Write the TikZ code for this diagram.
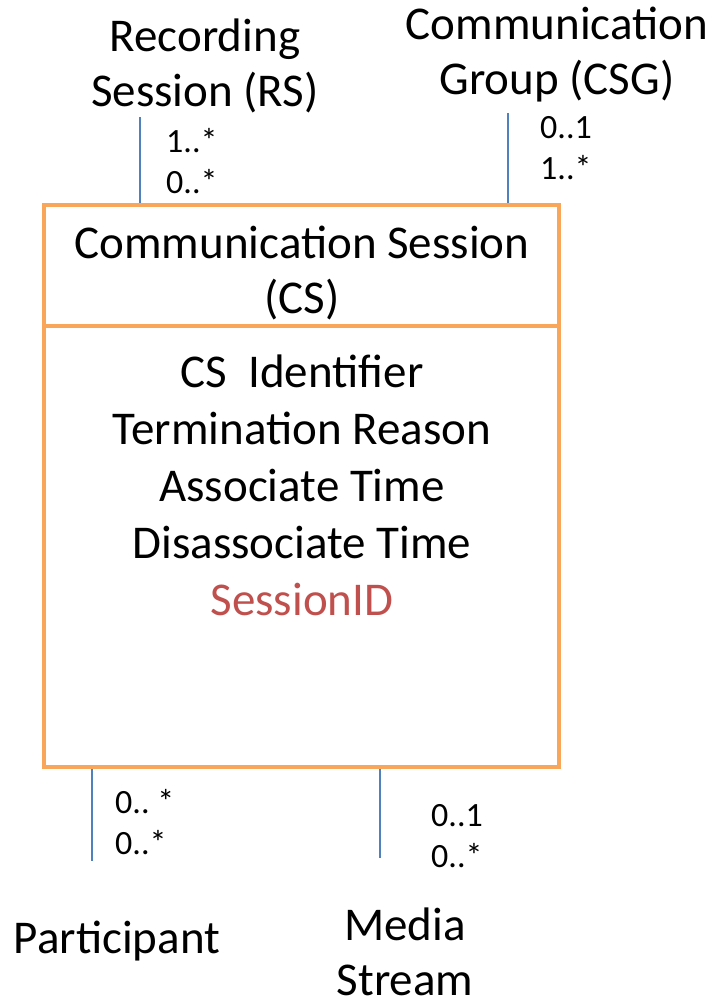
\documentclass[tikz,border=0pt]{standalone}
\usepackage{fontspec}
\setmainfont{Carlito}
\definecolor{boxorange}{HTML}{F9A65A}
\definecolor{linkblue}{HTML}{4F81BD}
\definecolor{attrred}{HTML}{C0504D}
\tikzset{
  big/.style={font=\fontsize{47}{55}\selectfont, align=center, inner sep=0pt},
  attr/.style={font=\fontsize{47}{57}\selectfont, align=center, inner sep=0pt},
  mult/.style={font=\fontsize{34}{41}\selectfont, align=left, inner sep=0pt, anchor=west},
  link/.style={draw=linkblue, line width=1.4pt},
  cbox/.style={draw=boxorange, line width=4pt, inner sep=0pt}
}
\begin{document}
\begin{tikzpicture}[x=1pt,y=-1pt]
\useasboundingbox (0,0) rectangle (714,997);
% main class box
\node[cbox, minimum width=515pt, minimum height=562pt] (cs) at (301.5,486) {};
\draw[draw=boxorange, line width=4pt] (cs.west |- 0,326) coordinate (divl) -- (cs.east |- 0,326) coordinate (divr);
\node[big] (cstitle) at (302,273) {Communication Session\\(CS)};
\node[attr] (attrs) at (302,485) {CS\ \ Identifier\\Termination Reason\\Associate Time\\Disassociate Time\\\textcolor{attrred}{SessionID}};
% related entities
\node[big] (rs) at (205,66) {Recording\\Session (RS)};
\node[big] (csg) at (557,55) {Communication\\Group (CSG)};
\node[big] (part) at (117,941) {Participant};
\node[big] (ms) at (405,952) {Media\\Stream};
% connector free ends
\coordinate (rsend) at (140,117);
\coordinate (csgend) at (508,113);
\coordinate (partend) at (92,861);
\coordinate (msend) at (380,858);
\draw[link] (rsend) -- (rsend |- cs.north);
\draw[link] (csgend) -- (csgend |- cs.north);
\draw[link] (partend) -- (partend |- cs.south);
\draw[link] (msend) -- (msend |- cs.south);
% multiplicities
\node[mult] (m1) at (166,161) {1..*\\0..*};
\node[mult] (m2) at (540,148) {0..1\\1..*};
\node[mult] (m3) at (115,822) {0..\ *\\0..*};
\node[mult] (m4) at (431,836) {0..1\\0..*};
\end{tikzpicture}
\end{document}
